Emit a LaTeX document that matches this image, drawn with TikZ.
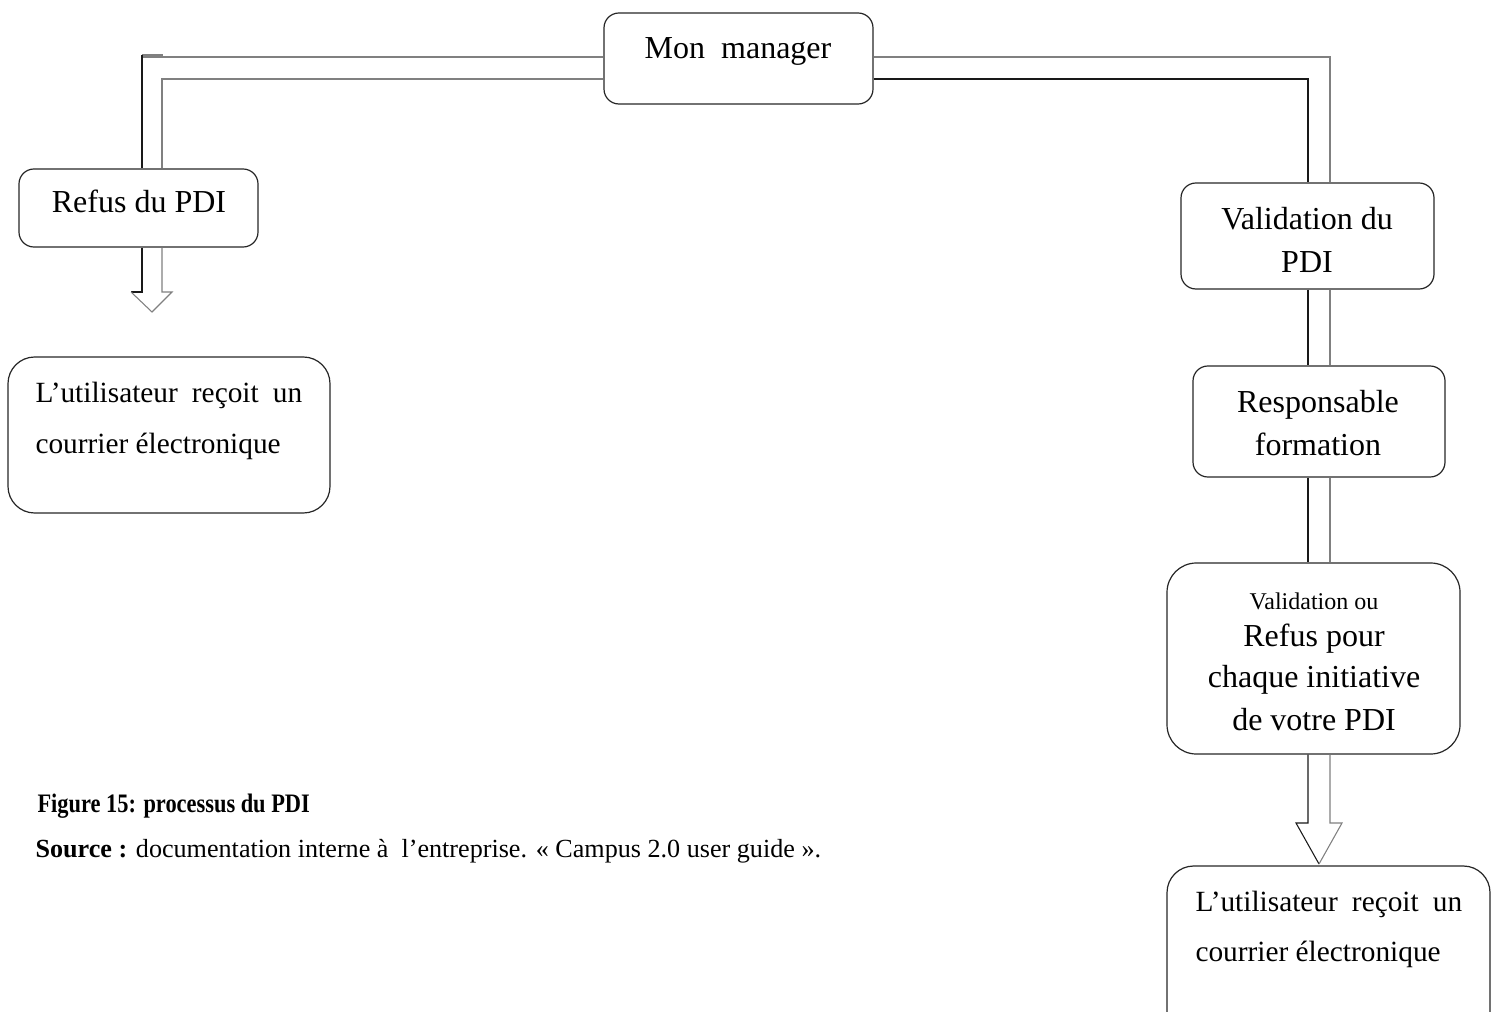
\documentclass[tikz,border=0pt]{standalone}
\usepackage{fontspec}
\setmainfont{Liberation Serif}
\usetikzlibrary{fit,calc}

\tikzset{
  box/.style={draw=black!85, line width=0.45pt, rounded corners=5.6pt, inner sep=0pt},
  bigbox/.style={box, rounded corners=10pt},
  txt/.style={inner sep=0pt, font=\fontsize{12}{14}\selectfont},
  txtl/.style={txt, anchor=base west},
  txtc/.style={txt, anchor=base},
  mail/.style={txtl, font=\fontsize{11}{13}\selectfont},
  dk/.style={draw=black!90, line width=0.4pt},
  lt/.style={draw=black!50, line width=0.4pt},
}

\begin{document}
\begin{tikzpicture}[x=0.375pt, y=-0.375pt]
  \useasboundingbox (0,0) rectangle (1498,1012);
  \clip (0,0) rectangle (1498,1012);

  % --- boxes ---
  \node[box, fit={(604,13) (873,104)}] (mgr) {};
  \node[box, fit={(19,169) (258,247)}] (refus) {};
  \node[bigbox, fit={(8,357) (330,513)}] (mailL) {};
  \node[box, fit={(1181,183) (1434,289)}] (valid) {};
  \node[box, fit={(1193,366) (1445,477)}] (resp) {};
  \node[bigbox, rounded corners=11pt, fit={(1167,563) (1460,754)}] (choice) {};
  \node[bigbox, fit={(1167,866) (1490,1040)}] (mailR) {};

  % --- texts ---
  \node[txtc] (tmgr) at (738,59) {Mon\ \ manager};
  \node[txtc] (trefus) at (139,213) {Refus du PDI};
  \node[mail] (tmailL1) at (35,403) {\makebox[100pt][s]{L’utilisateur reçoit un}};
  \node[mail] (tmailL2) at (35,453) {courrier électronique};
  \node[txtc] (tvalid1) at (1307,230) {Validation du};
  \node[txtc] (tvalid2) at (1307,273) {PDI};
  \node[txtc] (tresp1) at (1318,413) {Responsable};
  \node[txtc] (tresp2) at (1318,455) {formation};
  \node[txtc, font=\fontsize{9}{11}\selectfont] (tch1) at (1314,609) {Validation ou};
  \node[txtc] (tch2) at (1314,646) {Refus pour};
  \node[txtc] (tch3) at (1314,687) {chaque initiative};
  \node[txtc] (tch4) at (1314,730) {de votre PDI};
  \node[mail] (tmailR1) at (1195,911) {\makebox[100pt][s]{L’utilisateur reçoit un}};
  \node[mail] (tmailR2) at (1195,961) {courrier électronique};

  % --- caption ---
  \node[inner sep=0pt, anchor=base west, font=\fontsize{10}{12}\selectfont\bfseries] (cap) at (37,812)
    {\scalebox{0.84}[1]{Figure 15: processus du PDI}};
  \node[inner sep=0pt, anchor=base west, font=\fontsize{9.8}{12}\selectfont] (src) at (35,857)
    {\textbf{Source :} documentation interne à\ \ l’entreprise. « Campus 2.0 user guide ».};

  % --- reference lines of the hollow connectors ---
  \coordinate (tabT) at (0,55);
  \coordinate (barT) at (0,57);
  \coordinate (barB) at (0,79);
  \coordinate (Lo) at (142,0);
  \coordinate (Li) at (162,0);
  \coordinate (Ri) at (1308,0);
  \coordinate (Ro) at (1330,0);
  \coordinate (headL) at (0,292);
  \coordinate (headR) at (0,823);

  % left branch: manager -> refusal
  \draw[lt] (mgr.west |- barT) -- (Lo |- barT);
  \draw[lt] (Lo |- tabT) -- (Li |- tabT) -- (Li |- barT);
  \draw[dk] (Lo |- tabT) -- (Lo |- refus.north);
  \draw[lt] (mgr.west |- barB) -- (Li |- barB) -- (Li |- refus.north);

  % left arrow: refusal -> e-mail
  \draw[dk] (Lo |- refus.south) -- (Lo |- headL) -- (131,292);
  \draw[lt] (131,292) -- (152,312) -- (172,292) -- (Li |- headL) -- (Li |- refus.south);

  % right branch: manager -> validation
  \draw[lt] (mgr.east |- barT) -- (Ro |- barT) -- (Ro |- valid.north);
  \draw[dk] (mgr.east |- barB) -- (Ri |- barB) -- (Ri |- valid.north);

  % validation -> training manager -> decision
  \draw[dk] (Ri |- valid.south) -- (Ri |- resp.north);
  \draw[lt] (Ro |- valid.south) -- (Ro |- resp.north);
  \draw[dk] (Ri |- resp.south) -- (Ri |- choice.north);
  \draw[lt] (Ro |- resp.south) -- (Ro |- choice.north);

  % right arrow: decision -> e-mail
  \draw[dk] (Ri |- choice.south) -- (Ri |- headR) -- (1296,823) -- (1319,864);
  \draw[lt] (1319,864) -- (1342,823) -- (Ro |- headR) -- (Ro |- choice.south);
\end{tikzpicture}
\end{document}
